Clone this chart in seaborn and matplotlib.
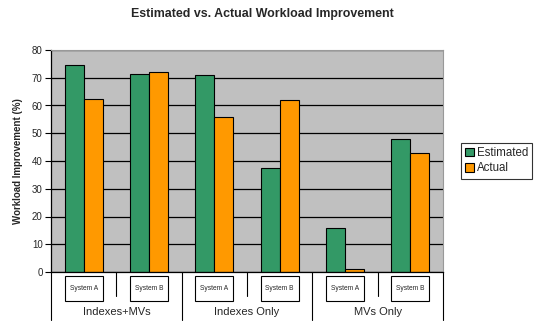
import matplotlib
matplotlib.use("Agg")
import matplotlib.pyplot as plt
import matplotlib.transforms as mtransforms
from matplotlib.patches import Rectangle
import seaborn as sns
import pandas as pd

# ---------------- datos ----------------
grupos = ["Indexes+MVs", "Indexes+MVs", "Indexes Only", "Indexes Only", "MVs Only", "MVs Only"]
sistemas = ["System A", "System B", "System A", "System B", "System A", "System B"]
estimado = [74.5, 71.5, 71, 37.5, 16, 48]
actual = [62.5, 72, 56, 62, 1, 43]
series = ["Estimated", "Actual"]
colores = ["#339966", "#FF9900"]

etiquetas = [f"{g}|{s}" for g, s in zip(grupos, sistemas)]
df = pd.DataFrame({
    "cat": etiquetas * 2,
    "valor": estimado + actual,
    "serie": [series[0]] * 6 + [series[1]] * 6,
})

sns.set_theme(style="white")
plt.rcParams['font.family'] = ['Liberation Sans', 'DejaVu Sans']

fig = plt.figure(figsize=(5.35, 3.22), dpi=100)
ax = fig.add_axes([51/535, 1 - 272/322, 392/535, 222/322])
ax.set_facecolor("#C0C0C0")

sns.barplot(data=df, x="cat", y="valor", hue="serie", palette=colores, saturation=1,
            width=0.58, edgecolor="black", linewidth=0.8, ax=ax, legend=True)

ax.set_ylim(0, 80)
ax.set_xlim(-0.5, 5.5)
ax.set_yticks(range(0, 81, 10))
ax.yaxis.grid(True, color="black", linewidth=0.9)
ax.set_axisbelow(True)
ax.tick_params(axis="y", left=True, length=4, width=0.8, labelsize=7, pad=2, color="black")
ax.tick_params(axis="x", bottom=False, labelbottom=False)
for lado in ["top", "right"]:
    ax.spines[lado].set_color("#999999")
    ax.spines[lado].set_linewidth(0.8)
for lado in ["left", "bottom"]:
    ax.spines[lado].set_color("black")
    ax.spines[lado].set_linewidth(0.9)
ax.set_xlabel("")
ax.set_ylabel("Workload Improvement (%)", fontsize=7, fontweight="bold", labelpad=6)

# ----------- etiquetas jerárquicas del eje x -----------
trans = mtransforms.blended_transform_factory(ax.transData, ax.transAxes)
for i, s in enumerate(sistemas):
    ax.add_patch(Rectangle((i - 0.29, -0.13), 0.58, 0.11, transform=trans, facecolor="white",
                           edgecolor="black", linewidth=0.8, clip_on=False))
    ax.text(i, -0.075, s, transform=trans, ha="center", va="center", fontsize=4.8)
for x in [-0.5, 1.5, 3.5, 5.5]:
    ax.plot([x, x], [0, -0.216], transform=trans, color="black", lw=0.8, clip_on=False)
for x in [0.5, 2.5, 4.5]:
    ax.plot([x, x], [0, -0.11], transform=trans, color="black", lw=0.8, clip_on=False)
for c, g in zip([0.5, 2.5, 4.5], ["Indexes+MVs", "Indexes Only", "MVs Only"]):
    ax.text(c, -0.18, g, transform=trans, ha="center", va="center", fontsize=8)

fig.text(262/535, 1 - 14/322, "Estimated vs. Actual Workload Improvement",
         ha="center", va="center", fontsize=8.9, fontweight="bold")

leg = ax.legend(loc="upper left", bbox_to_anchor=((461 - 51) / 392, (272 - 143) / 222),
                frameon=True, fontsize=8.3, handlelength=0.75, handleheight=0.75,
                handletextpad=0.25, borderpad=0.35, labelspacing=0.3, fancybox=False,
                borderaxespad=0)
leg.get_frame().set_edgecolor("black")
leg.get_frame().set_linewidth(0.8)

fig.savefig("out.png", dpi=100)
